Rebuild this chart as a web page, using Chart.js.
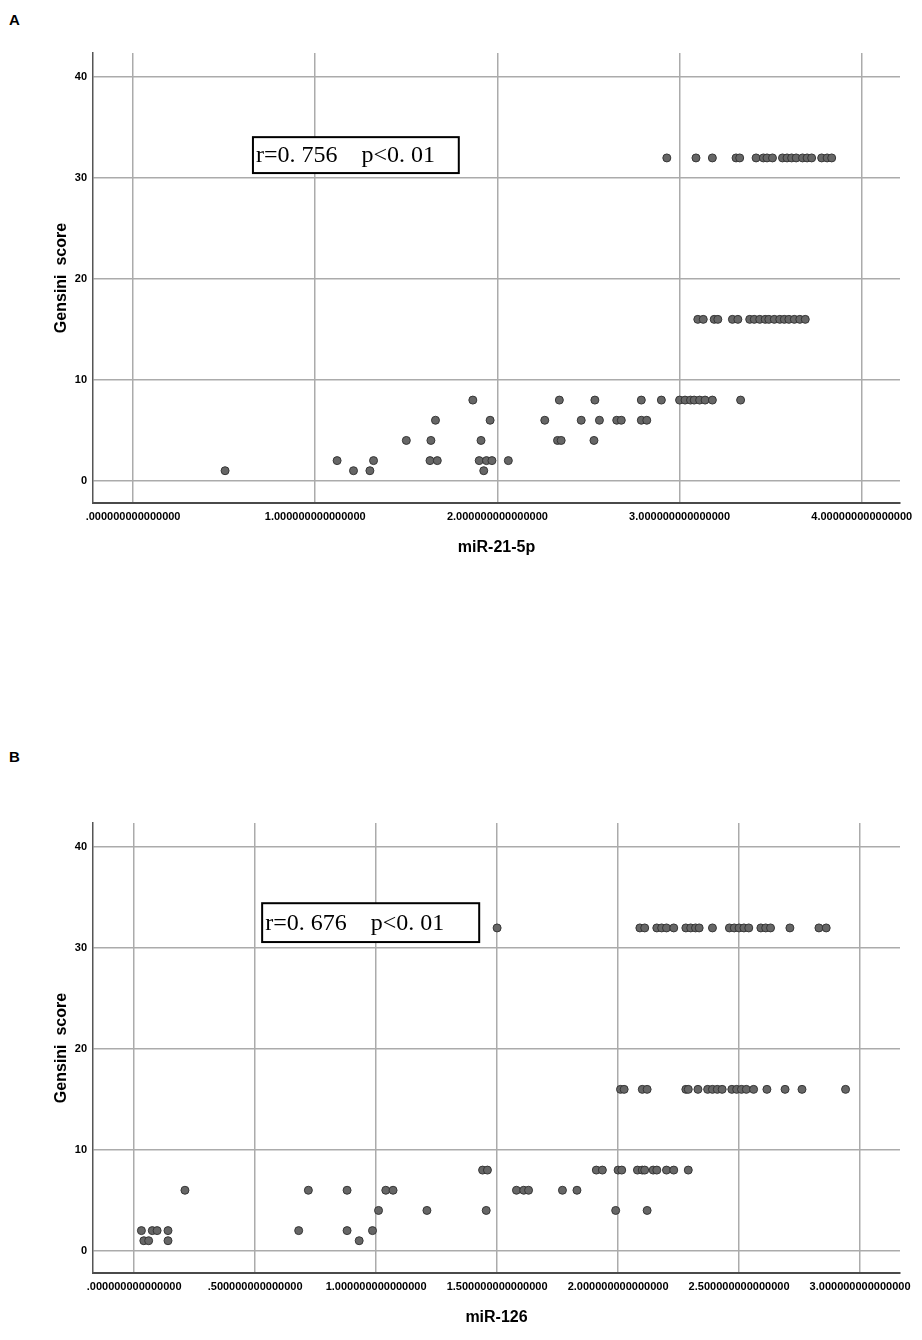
<!DOCTYPE html>
<html>
<head>
<meta charset="utf-8">
<script src="https://cdn.jsdelivr.net/npm/chart.js@4/dist/chart.umd.min.js"></script>
<style>
  html, body { margin: 0; padding: 0; background: #fff; }
  body { width: 922px; height: 1340px; position: relative; overflow: hidden; }
  .panel-label { position: absolute; left: 9px; font: bold 15px "Liberation Sans", Arial, sans-serif; color: #000; }
  canvas { position: absolute; left: 0; }
</style>
</head>
<body>
<div class="panel-label" style="top:11px">A</div>
<canvas id="chartA" width="922" height="580" style="top:0"></canvas>
<div class="panel-label" style="top:748px">B</div>
<canvas id="chartB" width="922" height="580" style="top:770px"></canvas>

<script>
const scoreLevels = [1, 2, 4, 6, 8, 16, 32];

const mir21Groups = [
  [0.505, 1.21, 1.30, 1.925],
  [1.12, 1.32, 1.63, 1.67, 1.90, 1.94, 1.97, 2.06],
  [1.50, 1.635, 1.91, 2.33, 2.35, 2.53],
  [1.66, 1.96, 2.26, 2.46, 2.56, 2.655, 2.68, 2.79, 2.82],
  [1.865, 2.34, 2.535, 2.79, 2.90, 3.00, 3.03, 3.06, 3.08, 3.11, 3.14, 3.18, 3.335],
  [3.10, 3.13, 3.19, 3.21, 3.29, 3.32, 3.385, 3.41, 3.44, 3.47, 3.49, 3.52, 3.55, 3.575, 3.60, 3.63, 3.66, 3.69],
  [2.93, 3.09, 3.18, 3.31, 3.33, 3.42, 3.46, 3.48, 3.51, 3.565, 3.59, 3.615, 3.64, 3.675, 3.70, 3.725, 3.78, 3.81, 3.835],
];

const mir126Groups = [
  [0.04, 0.06, 0.14, 0.93],
  [0.03, 0.075, 0.095, 0.14, 0.68, 0.88, 0.985],
  [1.01, 1.21, 1.455, 1.99, 2.12],
  [0.21, 0.72, 0.88, 1.04, 1.07, 1.58, 1.61, 1.63, 1.77, 1.83],
  [1.44, 1.46, 1.91, 1.935, 2.00, 2.015, 2.08, 2.10, 2.11, 2.145, 2.16, 2.20, 2.23, 2.29],
  [2.01, 2.025, 2.10, 2.12, 2.28, 2.29, 2.33, 2.37, 2.39, 2.41, 2.43, 2.47, 2.49, 2.51, 2.53, 2.56, 2.615, 2.69, 2.76, 2.94],
  [1.50, 2.09, 2.11, 2.16, 2.18, 2.20, 2.23, 2.28, 2.30, 2.32, 2.335, 2.39, 2.46, 2.48, 2.50, 2.52, 2.54, 2.59, 2.61, 2.63, 2.71, 2.83, 2.86],
];

const xTicksA = [0, 1, 2, 3, 4];
const xTicksB = [0, 0.5, 1, 1.5, 2, 2.5, 3];
const yTicks  = [0, 10, 20, 30, 40];

// r / p boxes, in data units of each panel
const statA = { text: 'r=0. 756    p<0. 01', x0: 0.658, x1: 1.788, y0: 30.5, y1: 34.06 };
const statB = { text: 'r=0. 676    p<0. 01', x0: 0.529, x1: 1.426, y0: 30.6, y1: 34.45 };

Chart.defaults.font.family = '"Liberation Sans", Arial, sans-serif';
Chart.defaults.color = '#000';

const toPoints = groups => groups.flatMap((xs, i) => xs.map(x => ({ x, y: scoreLevels[i] })));
const spssLabel = v => v.toFixed(15).replace(/^0/, '');

const statBox = {
  id: 'statBox',
  afterDraw(chart, args, o) {
    const { ctx, scales: { x, y } } = chart;
    const l = x.getPixelForValue(o.x0), r = x.getPixelForValue(o.x1);
    const t = y.getPixelForValue(o.y1), b = y.getPixelForValue(o.y0);
    ctx.save();
    ctx.fillStyle = '#fff';
    ctx.fillRect(l, t, r - l, b - t);
    ctx.strokeStyle = '#000';
    ctx.lineWidth = 2;
    ctx.strokeRect(l, t, r - l, b - t);
    ctx.fillStyle = '#000';
    ctx.font = '24px "Liberation Serif", "DejaVu Serif", serif';
    ctx.textBaseline = 'middle';
    ctx.fillText(o.text, l + 3, (t + b) / 2 + 1);
    ctx.restore();
  },
};

function makeChart(id, groups, xTicks, xMin, xMax, xTitle, stat) {
  return new Chart(document.getElementById(id), {
    type: 'scatter',
    data: {
      datasets: [{
        data: toPoints(groups),
        pointRadius: 4,
        pointHoverRadius: 4,
        backgroundColor: '#666666',
        borderColor: '#363636',
        borderWidth: 1,
      }],
    },
    options: {
      responsive: false,
      animation: false,
      events: [],
      layout: { padding: { top: 53, right: 22, left: 0, bottom: 0 } },
      plugins: { legend: { display: false }, tooltip: { enabled: false }, statBox: stat },
      scales: {
        x: {
          type: 'linear', min: xMin, max: xMax,
          afterBuildTicks: s => { s.ticks = xTicks.map(v => ({ value: v })); },
          afterFit: s => { s.height = 77; s.paddingLeft = 0; s.paddingRight = 0; },
          grid: { color: '#ababab', lineWidth: 1.5, drawTicks: false },
          border: { color: '#4a4a4a', width: 2 },
          ticks: { padding: 7, maxRotation: 0, autoSkip: false, font: { size: 11, weight: 'bold' }, callback: spssLabel },
          title: { display: true, text: xTitle, font: { size: 16, weight: 'bold' }, padding: { top: 0, bottom: 23 } },
        },
        y: {
          type: 'linear', min: -2.2, max: 42.4,
          afterBuildTicks: s => { s.ticks = yTicks.map(v => ({ value: v })); },
          afterFit: s => { s.width = 93; s.paddingTop = 0; s.paddingBottom = 0; },
          grid: { color: '#ababab', lineWidth: 1.5, drawTicks: false },
          border: { color: '#555', width: 1.5 },
          ticks: { padding: 6, font: { size: 11, weight: 'bold' } },
          title: { display: true, text: 'Gensini  score', font: { size: 16, weight: 'bold' }, padding: { top: 52, bottom: 0 } },
        },
      },
    },
    plugins: [statBox],
  });
}

makeChart('chartA', mir21Groups, xTicksA, -0.22, 4.21, 'miR-21-5p', statA);
makeChart('chartB', mir126Groups, xTicksB, -0.17, 3.165, 'miR-126', statB);
</script>
</body>
</html>
